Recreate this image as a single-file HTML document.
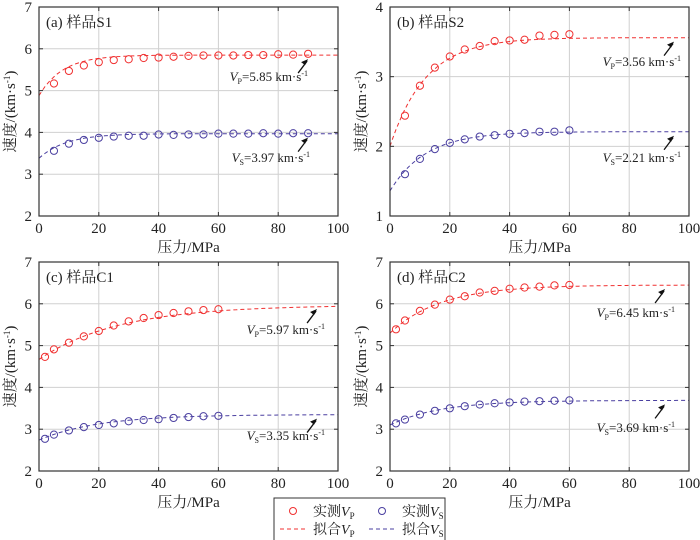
<!DOCTYPE html>
<html><head><meta charset="utf-8"><style>
body{margin:0;background:#fff;}
svg{display:block;font-family:"Liberation Serif","Noto Serif CJK SC",serif;}
</style></head><body>
<svg id="c" width="700" height="540" viewBox="0 0 700 540"></svg>
<script>
// Data
const pressureS1 = [5,10,15,20,25,30,35,40,45,50,55,60,65,70,75,80,85,90];
const vpS1 = [5.17,5.47,5.6,5.68,5.73,5.75,5.78,5.79,5.81,5.83,5.84,5.84,5.84,5.85,5.85,5.87,5.86,5.88];
const vsS1 = [3.56,3.73,3.82,3.87,3.9,3.92,3.92,3.95,3.94,3.95,3.95,3.97,3.97,3.97,3.98,3.97,3.98,3.98];
const pressureS2 = [5,10,15,20,25,30,35,40,45,50,55,60];
const vpS2 = [2.44,2.87,3.13,3.29,3.39,3.44,3.51,3.52,3.53,3.59,3.6,3.61];
const vsS2 = [1.6,1.82,1.96,2.05,2.1,2.14,2.16,2.18,2.19,2.21,2.21,2.23];
const pressureC = [2,5,10,15,20,25,30,35,40,45,50,55,60];
const vpC1 = [4.73,4.91,5.07,5.22,5.35,5.48,5.58,5.66,5.73,5.78,5.82,5.85,5.87];
const vsC1 = [2.77,2.87,2.97,3.05,3.1,3.14,3.19,3.22,3.24,3.27,3.29,3.31,3.32];
const vpC2 = [5.39,5.6,5.83,5.98,6.1,6.18,6.27,6.31,6.36,6.39,6.41,6.44,6.45];
const vsC2 = [3.14,3.23,3.35,3.44,3.5,3.55,3.59,3.62,3.64,3.66,3.67,3.68,3.69];
// fit params: [V0, Vinf, k]
const fitVpS1 = [4.88,5.85,8]; const fitVsS1 = [3.38,3.97,9];
const fitVpS2 = [2.0,3.56,12]; const fitVsS2 = [1.36,2.21,12];
const fitVpC1 = [4.67,5.97,27]; const fitVsC1 = [2.74,3.35,20];
const fitVpC2 = [5.3,6.45,17]; const fitVsC2 = [3.1,3.69,17];
const xTicks = [0,20,40,60,80,100];

const NS='http://www.w3.org/2000/svg';
const svg=document.getElementById('c');
function mk(tag,attrs,parent,text){const e=document.createElementNS(NS,tag);for(const k in attrs)e.setAttribute(k,attrs[k]);if(text!==undefined)e.textContent=text;(parent||svg).appendChild(e);return e;}
const RED='#f03030', BLUE='#4a3fa0';

const panels=[
 {id:'a',title:'(a) 样品S1',x0:39,x1:338,y0:7,y1:216,ymin:2,ymax:7,P:pressureS1,vp:vpS1,vs:vsS1,fp:fitVpS1,fs:fitVsS1,ap:90,lp:[308,81],ls:[310,162]},
 {id:'b',title:'(b) 样品S2',x0:390,x1:689,y0:7,y1:216,ymin:1,ymax:4,P:pressureS2,vp:vpS2,vs:vsS2,fp:fitVpS2,fs:fitVsS2,ap:95,lp:[681,66],ls:[681,162]},
 {id:'c',title:'(c) 样品C1',x0:39,x1:338,y0:262,y1:471,ymin:2,ymax:7,P:pressureC,vp:vpC1,vs:vsC1,fp:fitVpC1,fs:fitVsC1,ap:93,lp:[325,334],ls:[325,440]},
 {id:'d',title:'(d) 样品C2',x0:390,x1:689,y0:262,y1:471,ymin:2,ymax:7,P:pressureC,vp:vpC2,vs:vsC2,fp:fitVpC2,fs:fitVsC2,ap:92,lp:[675,317],ls:[675,432]}
];

panels.forEach(p=>{
  const g=mk('g',{});
  
  
  const X=v=>p.x0+(v/100)*(p.x1-p.x0);
  const Y=v=>p.y1-(v-p.ymin)/(p.ymax-p.ymin)*(p.y1-p.y0);
  const yTicks=[];for(let v=p.ymin;v<=p.ymax;v++)yTicks.push(v);
  xTicks.forEach(t=>{if(t>0&&t<100)mk('line',{x1:X(t),x2:X(t),y1:p.y0,y2:p.y1,stroke:'#d0d0d0','stroke-width':1},g);});
  yTicks.forEach(t=>{if(t>p.ymin&&t<p.ymax)mk('line',{x1:p.x0,x2:p.x1,y1:Y(t),y2:Y(t),stroke:'#d0d0d0','stroke-width':1},g);});
  const fit=(f,P)=>f[1]-(f[1]-f[0])*Math.exp(-P/f[2]);
  [[p.fp,RED,'fit-vp'],[p.fs,BLUE,'fit-vs']].forEach(([f,c,n])=>{
    let d='';for(let P=0;P<=100;P+=1)d+=(P?'L':'M')+X(P).toFixed(1)+','+Y(fit(f,P)).toFixed(1);
    const e=mk('path',{d:d,fill:'none',stroke:c,'stroke-width':1,'stroke-dasharray':'4,3'},g);
    
    
  });
  [[p.vp,RED,'vp'],[p.vs,BLUE,'vs']].forEach(([arr,c,n])=>{
    arr.forEach((v,i)=>{
      const e=mk('circle',{cx:X(p.P[i]),cy:Y(v),r:3.6,fill:'none',stroke:c,'stroke-width':1},g);
      
      
    });
  });
  mk('rect',{x:p.x0,y:p.y0,width:p.x1-p.x0,height:p.y1-p.y0,fill:'none',stroke:'#333','stroke-width':1.2},g);
  xTicks.forEach(t=>{
    mk('line',{x1:X(t),x2:X(t),y1:p.y1,y2:p.y1-4,stroke:'#333'},g);
    mk('line',{x1:X(t),x2:X(t),y1:p.y0,y2:p.y0+4,stroke:'#333'},g);
    mk('text',{x:X(t),y:p.y1+17,'text-anchor':'middle','font-size':15,fill:'#222'},g,String(t));
  });
  yTicks.forEach(t=>{
    mk('line',{x1:p.x0,x2:p.x0+4,y1:Y(t),y2:Y(t),stroke:'#333'},g);
    mk('line',{x1:p.x1,x2:p.x1-4,y1:Y(t),y2:Y(t),stroke:'#333'},g);
    mk('text',{x:p.x0-7,y:Y(t)+5,'text-anchor':'end','font-size':15,fill:'#222'},g,String(t));
  });
  const t=mk('text',{x:p.x0+7,y:p.y0+20,'font-size':15,fill:'#222'},g,p.title);
  
  
  const xl=mk('text',{x:(p.x0+p.x1)/2,y:p.y1+36,'text-anchor':'middle','font-size':15,fill:'#222'},g,'压力/MPa');
  
  
  const cy=(p.y0+p.y1)/2, cx=p.x0-24;
  const yl=mk('text',{x:cx,y:cy,'text-anchor':'middle','font-size':15,fill:'#222',transform:'rotate(-90 '+cx+' '+cy+')'},g);
  yl.innerHTML='速度/(km·s<tspan dy="-5" font-size="9">-1</tspan><tspan dy="5">)</tspan>';
  
  
  [[p.fp,p.lp,'P'],[p.fs,p.ls,'S']].forEach(([f,l,s])=>{
    const hx=X(p.ap), hy=Y(f[1])+4;
    mk('line',{x1:hx-10,y1:hy+14,x2:hx-1,y2:hy+2,stroke:'#111','stroke-width':1.3},g);
    mk('path',{d:`M${hx},${hy} l-7,3 l4,3 z`,fill:'#111'},g);
    const a=mk('text',{x:l[0],y:l[1],'font-size':13,fill:'#222','text-anchor':'end'},g);
    a.innerHTML=`<tspan font-style="italic">V</tspan><tspan font-size="8" dy="3">${s}</tspan><tspan dy="-3">=${f[1].toFixed(2)} km·s</tspan><tspan font-size="8" dy="-5">-1</tspan>`;
    
    
  });
});

const lg=mk('g',{});


mk('rect',{x:274,y:498,width:171,height:45,fill:'#fff',stroke:'#333','stroke-width':1},lg);
mk('circle',{cx:293,cy:511,r:3.5,fill:'none',stroke:RED},lg);
mk('circle',{cx:382,cy:511,r:3.5,fill:'none',stroke:BLUE},lg);
mk('line',{x1:280,x2:305,y1:529,y2:529,stroke:RED,'stroke-dasharray':'4,3'},lg);
mk('line',{x1:369,x2:394,y1:529,y2:529,stroke:BLUE,'stroke-dasharray':'4,3'},lg);
[['实测',313,516,'P'],['实测',402,516,'S'],['拟合',313,534,'P'],['拟合',402,534,'S']].forEach(([w,x,y,s])=>{
  const e=mk('text',{x:x,y:y,'font-size':14,fill:'#222'},lg);
  e.innerHTML=`${w}<tspan font-style="italic">V</tspan><tspan font-size="9" dy="3">${s}</tspan>`;
  
  
});
</script>
</body></html>
